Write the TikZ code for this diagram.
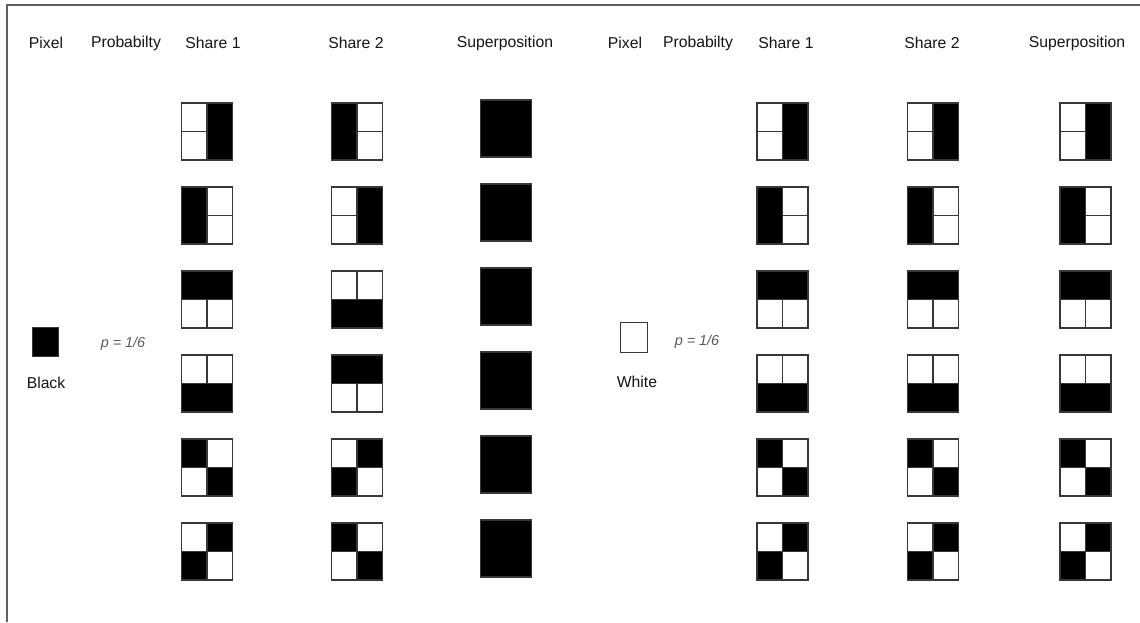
\documentclass[tikz,border=0pt]{standalone}
\usepackage{fontspec}
\setmainfont{Liberation Sans}
\usetikzlibrary{positioning}
\definecolor{GridLine}{RGB}{55,55,55}
\definecolor{HeadText}{RGB}{20,20,20}
\definecolor{ProbText}{RGB}{90,90,90}
\tikzset{
  head/.style={font=\fontsize{11.8}{13}\selectfont,text=HeadText,inner sep=0pt},
  prob/.style={font=\fontsize{10.8}{12}\selectfont\itshape,text=ProbText,inner sep=0pt},
  sharebox/.style={minimum width=38.25pt,minimum height=42.75pt,inner sep=0pt,outer sep=0pt},
  pixbox/.style={draw=GridLine,line width=0.9pt,minimum width=20pt,minimum height=22pt,inner sep=0pt},
  cellline/.style={draw=GridLine,line width=1.1pt},
  frameline/.style={draw=GridLine!80,line width=1.5pt}
}
% 2x2 share: #1 node, then TL TR BL BR (1 = black)
\newcommand{\cells}[5]{%
  \ifnum#2=1 \fill (#1.north west) rectangle (#1.center);\fi
  \ifnum#3=1 \fill (#1.north) rectangle (#1.east);\fi
  \ifnum#4=1 \fill (#1.west) rectangle (#1.south);\fi
  \ifnum#5=1 \fill (#1.center) rectangle (#1.south east);\fi
  \ifnum\numexpr#2+#3\relax<2 \draw[cellline] (#1.north) -- (#1.center);\fi
  \ifnum\numexpr#4+#5\relax<2 \draw[cellline] (#1.center) -- (#1.south);\fi
  \ifnum\numexpr#2+#4\relax<2 \draw[cellline] (#1.west) -- (#1.center);\fi
  \ifnum\numexpr#3+#5\relax<2 \draw[cellline] (#1.center) -- (#1.east);\fi
  \draw[cellline] (#1.north west) rectangle (#1.south east);
}

\begin{document}
\begin{tikzpicture}[x=0.75pt,y=-0.75pt]
  \useasboundingbox (0,0) rectangle (1140,622);
  \draw[frameline] (7,622) -- (7,4.5) -- (1140,4.5);

  % headers
  \node[head] (hPixL) at (46,43) {Pixel};
  \node[head] (hProbL) at (126,43) {Probabilty};
  \node[head] (hS1L) at (213,43) {Share 1};
  \node[head] (hS2L) at (356,43) {Share 2};
  \node[head] (hSupL) at (505,43) {Superposition};
  \node[head] (hPixR) at (625,43) {Pixel};
  \node[head] (hProbR) at (698,43) {Probabilty};
  \node[head] (hS1R) at (786,43) {Share 1};
  \node[head] (hS2R) at (932,43) {Share 2};
  \node[head] (hSupR) at (1077,43) {Superposition};

  % secret pixels
  \node[pixbox,fill=black] (pixL) at (45.5,342) {};
  \node[head] (blackL) at (46,383) {Black};
  \node[prob] (probL) at (123,344) {p = 1/6};
  \node[pixbox,fill=white] (pixR) at (634,337.5) {};
  \node[head] (whiteR) at (637,382) {White};
  \node[prob] (probR) at (697,342) {p = 1/6};

  % six share rows
  \foreach \p/\q/\s/\t [count=\i from 0] in {0/1/0/1, 1/0/1/0, 1/1/0/0, 0/0/1/1, 1/0/0/1, 0/1/1/0}{
    \pgfmathsetmacro{\ycen}{131.5+84*\i}
    \pgfmathsetmacro{\ysup}{128.5+84*\i}
    \pgfmathtruncatemacro{\np}{1-\p}
    \pgfmathtruncatemacro{\nq}{1-\q}
    \pgfmathtruncatemacro{\ns}{1-\s}
    \pgfmathtruncatemacro{\nt}{1-\t}
    \node[sharebox] (l1-\i) at (207,\ycen) {};
    \node[sharebox] (l2-\i) at (357,\ycen) {};
    \node[sharebox] (lsup-\i) at (506,\ysup) {};
    \node[sharebox] (r1-\i) at (782.5,\ycen) {};
    \node[sharebox] (r2-\i) at (933,\ycen) {};
    \node[sharebox] (rsup-\i) at (1085.5,\ycen) {};
    \cells{l1-\i}{\p}{\q}{\s}{\t}
    \cells{l2-\i}{\np}{\nq}{\ns}{\nt}
    \cells{lsup-\i}{1}{1}{1}{1}
    \cells{r1-\i}{\p}{\q}{\s}{\t}
    \cells{r2-\i}{\p}{\q}{\s}{\t}
    \cells{rsup-\i}{\p}{\q}{\s}{\t}
  }
\end{tikzpicture}
\end{document}
